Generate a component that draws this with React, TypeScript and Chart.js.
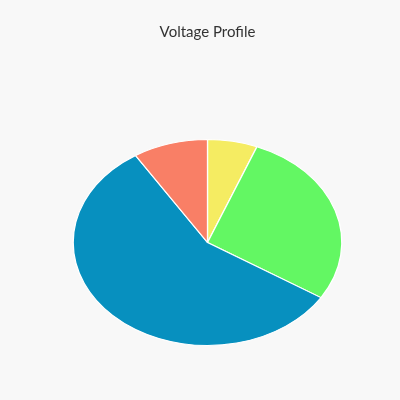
import React, { useEffect, useRef } from "react";
import { Chart, registerables } from "chart.js";

Chart.register(...registerables);

const labels = ["Phase A", "Phase B", "Phase C", "Phase D"];
const values = [6, 28, 57, 9];
const colors = ["#f5ec62", "#63f763", "#0790bf", "#f97f66"];
const titleText = "Voltage Profile";

const stretchX = 1.304;

const ellipsePlugin = {
  id: "ellipse",
  beforeDatasetsDraw(chart: any) {
    const ctx = chart.ctx;
    const meta = chart.getDatasetMeta(0);
    const cx = meta.data.length ? meta.data[0].x : 0;
    ctx.save();
    ctx.translate(cx, 0);
    ctx.scale(stretchX, 1);
    ctx.translate(-cx, 0);
  },
  afterDatasetsDraw(chart: any) {
    chart.ctx.restore();
  },
};

export default function App() {
  const ref = useRef<HTMLCanvasElement | null>(null);
  useEffect(() => {
    document.body.style.margin = "0";
    const chart = new Chart(ref.current!, {
      type: "pie",
      data: {
        labels,
        datasets: [
          {
            data: values,
            backgroundColor: colors,
            borderColor: "#ffffff",
            borderWidth: 1,
          },
        ],
      },
      options: {
        animation: false,
        responsive: false,
        events: [],
        layout: { padding: { top: 0, bottom: 54, left: 104, right: 89 } },
        plugins: {
          legend: { display: false },
          tooltip: { enabled: false },
          title: {
            display: true,
            text: titleText,
            color: "#333333",
            font: { family: "Lato", size: 15, weight: "normal" },
            padding: { top: 23, bottom: 98 },
          },
        },
      },
      plugins: [ellipsePlugin],
    });
    return () => chart.destroy();
  }, []);
  return (
    <div style={{ width: 400, height: 400, background: "#f8f8f8" }}>
      <canvas ref={ref} width={400} height={400} style={{ display: "block" }} />
    </div>
  );
}
